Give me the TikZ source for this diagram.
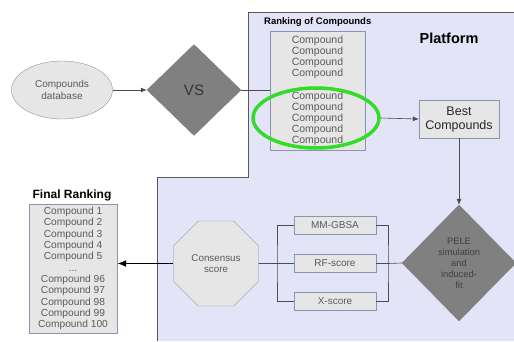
\documentclass[tikz,border=0pt]{standalone}
\usepackage{fontspec}
\setmainfont{Liberation Sans}
\usetikzlibrary{shapes.geometric,arrows.meta}

\definecolor{platformbg}{RGB}{228,228,248}
\definecolor{boxfill}{RGB}{230,230,230}
\definecolor{boxline}{RGB}{135,150,170}
\definecolor{diamondfill}{RGB}{128,128,128}
\definecolor{textgray}{RGB}{90,90,90}
\definecolor{ringgreen}{RGB}{50,220,40}

\tikzset{
  graybox/.style={draw=boxline, fill=boxfill, inner sep=0pt, text=textgray, align=center},
  decision/.style={diamond, fill=diamondfill, draw=diamondfill, inner sep=0pt, align=center},
  conn/.style={draw=black!70, line width=0.6pt},
  flow/.style={conn, -{Latex[length=6pt,width=5pt]}},
}

\begin{document}
\begin{tikzpicture}[x=1pt,y=-1pt]
\useasboundingbox (0,0) rectangle (514,341);

% platform area
\fill[platformbg] (248,12) -- (514,12) -- (514,341) -- (157,341) -- (157,177) -- (248,177) -- cycle;
\draw[black!65] (514,12) -- (248,12) -- (248,177) -- (157,177) -- (157,341);
\node[font=\bfseries\fontsize{14.5}{16}\selectfont] (platform) at (449,38) {Platform};

% virtual screening
\node[graybox, ellipse, minimum width=101, minimum height=58, font=\fontsize{10}{11.5}\selectfont] (db) at (62,90) {Compounds\\database};
\node[decision, minimum width=94, minimum height=91, font=\fontsize{15}{16}\selectfont, text=black!80] (vs) at (194,90) {VS};

% ranking
\node[graybox, minimum width=95, minimum height=119, font=\fontsize{10.5}{11}\selectfont] (ranking) at (317.5,90.5)
  {Compound\\Compound\\Compound\\Compound\\[12pt]Compound\\Compound\\Compound\\Compound\\Compound};
\node[anchor=south west, inner sep=0pt, font=\bfseries\fontsize{9.5}{11}\selectfont] (rankinglabel) at (264,27) {Ranking of Compounds};
\node[ellipse, draw=ringgreen, line width=3.5pt, minimum width=126, minimum height=60] (ring) at (316,118) {};
\node[graybox, minimum width=80, minimum height=38, text=black!85, font=\fontsize{12.5}{14}\selectfont] (best) at (459,119) {Best\\Compounds};

% rescoring
\node[decision, minimum width=114, minimum height=116, text=black!75, font=\fontsize{9.3}{11}\selectfont] (pele) at (459,263)
  {PELE\\simulation\\and\\induced-\\fit};
\node[graybox, minimum width=82, minimum height=18, font=\fontsize{10}{11}\selectfont] (mmgbsa) at (335,225) {MM-GBSA};
\node[graybox, minimum width=82, minimum height=18, font=\fontsize{10}{11}\selectfont] (rfscore) at (335,263.5) {RF-score};
\node[graybox, minimum width=82, minimum height=18, font=\fontsize{10}{11}\selectfont] (xscore) at (335,301.5) {X-score};
\coordinate (rbar) at (388,263.5);
\coordinate (lbar) at (277,263.5);
\node[graybox, regular polygon, regular polygon sides=8, minimum size=92, font=\fontsize{9.8}{11.5}\selectfont] (consensus) at (216,263.5) {Consensus\\score};

% final ranking
\node[graybox, minimum width=88, minimum height=129, font=\fontsize{10.2}{11.3}\selectfont] (final) at (73,268.5)
  {Compound 1\\Compound 2\\Compound 3\\Compound 4\\Compound 5\\...\\Compound 96\\Compound 97\\Compound 98\\Compound 99\\Compound 100};
\node[font=\bfseries\fontsize{12}{14}\selectfont] (finallabel) at (72,195) {Final Ranking};

% connectors
\draw[flow] (db) -- (vs);
\draw[conn] (vs.east) -- (vs.east -| ranking.west);
\draw[flow] (ring.east) -- (best.west);
\draw[flow] (best.south) -- (pele.north);
\draw[conn] (pele.west) -- (rbar);
\draw[conn] (mmgbsa.east) -| (rbar) |- (xscore.east);
\draw[conn] (rfscore.east) -- (rbar);
\draw[conn] (mmgbsa.west) -| (lbar) |- (xscore.west);
\draw[conn] (rfscore.west) -- (lbar);
\draw[conn] (lbar) -- (consensus.east);
\draw[line width=1.6pt, -{Latex[length=9pt,width=7pt]}] (consensus.west) -- (consensus.west -| final.east);
\end{tikzpicture}
\end{document}
